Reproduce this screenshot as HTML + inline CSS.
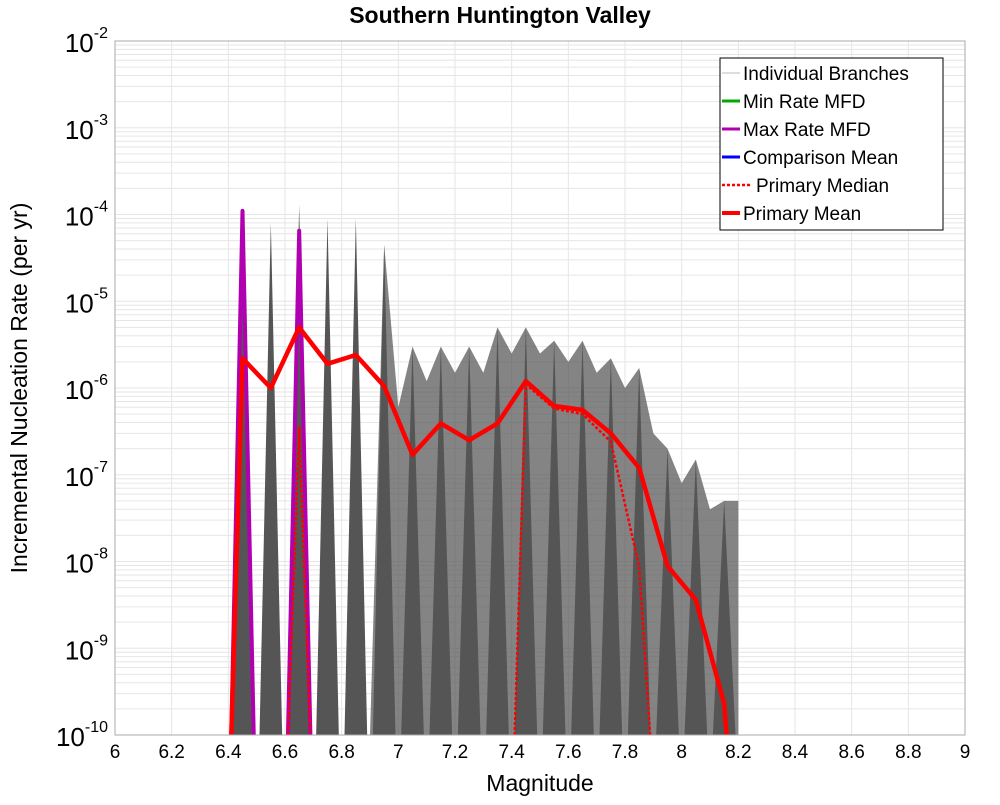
<!DOCTYPE html>
<html><head><meta charset="utf-8"><style>
body{margin:0;background:#fff;font-family:"Liberation Sans","DejaVu Sans",sans-serif}
</style></head><body>
<svg id="c" width="1000" height="800" xmlns="http://www.w3.org/2000/svg"></svg>
<script>
const mags=[6.45,6.55,6.65,6.75,6.85,6.95,7.05,7.15,7.25,7.35,7.45,7.55,7.65,7.75,7.85,7.95,8.05,8.15];
const meanVals=[2.2e-6,1.0e-6,5e-6,1.9e-6,2.4e-6,1.05e-6,1.7e-7,3.9e-7,2.5e-7,3.9e-7,1.2e-6,6.2e-7,5.6e-7,3.0e-7,1.2e-7,8.9e-9,3.6e-9,2.3e-10];
const medianVals=[0,0,3.5e-7,0,0,0,0,0,0,0,1.1e-6,5.8e-7,5e-7,2.4e-7,8.7e-9,0,0,0];
const maxRateVals=[1.1e-4,0,6.5e-5,0,0,0,0,0,0,0,0,0,0,0,0,0,0,0];
const branchPeak=[1.2e-4,8e-5,1.3e-4,9e-5,9e-5,4.5e-5,3e-6,3e-6,3e-6,5e-6,5e-6,3.5e-6,3.5e-6,2.2e-6,1.7e-6,2e-7,1.5e-7,5e-8];
const branchValley=[0,0,0,0,0,6e-7,1.2e-6,1.5e-6,1.5e-6,2.5e-6,2.5e-6,2e-6,1.5e-6,1e-6,3e-7,8e-8,4e-8];
const xTicks=[6,6.2,6.4,6.6,6.8,7,7.2,7.4,7.6,7.8,8,8.2,8.4,8.6,8.8,9];
const yExps=[-2,-3,-4,-5,-6,-7,-8,-9,-10];
const L=115,R=965,T=41,B=735;
const X=m=>L+(m-6)/3*(R-L);
const Y=v=>{if(v<=0)return B+20;return T+(-2-Math.log10(v))*(B-T)/8;};
const svg=document.getElementById('c');const NS='http://www.w3.org/2000/svg';
function el(t,a,p){const e=document.createElementNS(NS,t);for(const k in a)e.setAttribute(k,a[k]);(p||svg).appendChild(e);return e;}
const defs=el('defs',{});const cp=el('clipPath',{id:'cp'},defs);el('rect',{x:L,y:T,width:R-L,height:B-T},cp);
const grid=el('g',{});
for(let e=-10;e<-2;e++)for(let k=1;k<10;k++){const y=Y(k*Math.pow(10,e));el('line',{x1:L,x2:R,y1:y,y2:y,stroke:'#e6e6e6','stroke-width':1},grid);}
xTicks.forEach(t=>el('line',{x1:X(t),x2:X(t),y1:T,y2:B,stroke:'#e6e6e6'},grid));
const g=el('g',{'clip-path':'url(#cp)'});
let pts=[[X(6.9),B]];
for(let i=5;i<mags.length;i++){pts.push([X(mags[i]),Y(branchPeak[i])]);if(i<mags.length-1)pts.push([X(mags[i]+0.05),Y(branchValley[i])]);}
pts.push([X(8.2),Y(5e-8)]);pts.push([X(8.2),B]);
const mass=el('polygon',{points:pts.map(p=>p.join(',')).join(' '),fill:'rgba(85,85,85,0.72)'},g);

mags.forEach((m,i)=>{const s=el('polygon',{points:`${X(m-0.04)},${B} ${X(m)},${Y(branchPeak[i])} ${X(m+0.04)},${B}`,fill:'#555'},g);
});
function series(vals,color,w,dash,name){let d='';let prev=false;
mags.forEach((m,i)=>{const v=vals[i];if(v>0){if(!prev)d+=`M${X(m-0.04)},${B+5}`;d+=`L${X(m)},${Y(v)}`;prev=true;}else{if(prev)d+=`L${X(m-0.06)},${B+5}`;prev=false;}});
if(prev)d+=`L${X(mags[mags.length-1]+0.01)},${B+5}`;
const p=el('path',{d:d,fill:'none',stroke:color,'stroke-width':w,'stroke-dasharray':dash||'none','stroke-linejoin':'round'},g);
}
series(maxRateVals,'#b000b0',4,null,'max-rate-line');
series(medianVals,'#f00',2.5,'3,2','median-line');
series(meanVals,'#f00',4.5,null,'mean-line');
el('rect',{x:L,y:T,width:R-L,height:B-T,fill:'none',stroke:'#aaa'});
xTicks.forEach(t=>{const tx=el('text',{x:X(t),y:758,'font-size':19,'text-anchor':'middle',fill:'#000'});tx.textContent=t;
});
yExps.forEach(e=>{const y=Y(Math.pow(10,e));const tx=el('text',{x:108,y:y+11,'font-size':26,'text-anchor':'end',fill:'#000'});
tx.innerHTML='10<tspan dy="-14" font-size="16">'+e+'</tspan>';});
</script>
<svg width="1000" height="800" style="position:absolute;left:0;top:0" xmlns="http://www.w3.org/2000/svg">
<text x="500" y="23" font-size="23" font-weight="bold" text-anchor="middle" font-family="Liberation Sans,sans-serif">Southern Huntington Valley</text>
<text x="540" y="791" font-size="23" text-anchor="middle" font-family="Liberation Sans,sans-serif">Magnitude</text>
<text transform="translate(27,388) rotate(-90)" font-size="23" text-anchor="middle" font-family="Liberation Sans,sans-serif">Incremental Nucleation Rate (per yr)</text>
<g font-size="19" font-family="Liberation Sans,sans-serif">
<rect x="720" y="58" width="223" height="172" fill="#fff" stroke="#000"/>
<line x1="722" x2="740" y1="73" y2="73" stroke="#bbb"/><text x="743" y="80">Individual Branches</text>
<line x1="722" x2="740" y1="101" y2="101" stroke="#0a0" stroke-width="3"/><text x="743" y="108">Min Rate MFD</text>
<line x1="722" x2="740" y1="129" y2="129" stroke="#b000b0" stroke-width="3"/><text x="743" y="136">Max Rate MFD</text>
<line x1="722" x2="740" y1="157" y2="157" stroke="#00f" stroke-width="3"/><text x="743" y="164">Comparison Mean</text>
<line x1="722" x2="752" y1="185" y2="185" stroke="#f00" stroke-width="2.5" stroke-dasharray="3,2"/><text x="756" y="192">Primary Median</text>
<line x1="722" x2="740" y1="213" y2="213" stroke="#f00" stroke-width="4"/><text x="743" y="220">Primary Mean</text>
</g></svg>
</body></html>
